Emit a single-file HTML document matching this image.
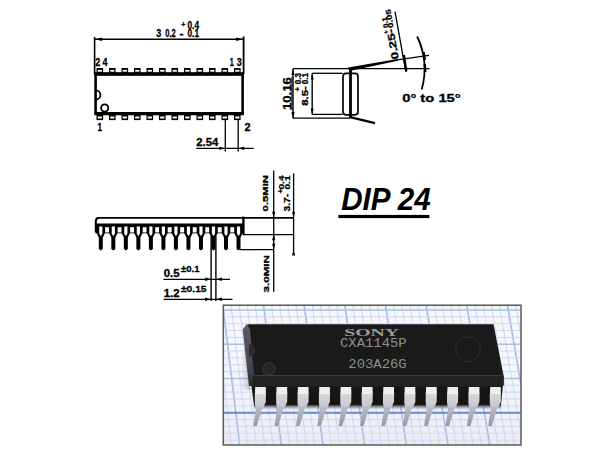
<!DOCTYPE html>
<html><head><meta charset="utf-8"><style>
html,body{margin:0;padding:0;background:#fff;width:600px;height:451px;overflow:hidden}
svg{position:absolute;left:0;top:0}
</style></head><body>
<svg width="600" height="451" viewBox="0 0 600 451">
<defs>
<clipPath id="pclip"><rect x="223.3" y="305.2" width="297.7" height="139.8"/></clipPath>
<linearGradient id="pt" x1="0" y1="0" x2="0" y2="1">
<stop offset="0" stop-color="#d6d6dc"/><stop offset="0.35" stop-color="#cbcbd3"/><stop offset="0.45" stop-color="#babac4"/><stop offset="1" stop-color="#9899a4"/>
</linearGradient>
<linearGradient id="fade" x1="0" y1="0" x2="0" y2="1">
<stop offset="0" stop-color="#3a3a40" stop-opacity="0.9"/><stop offset="1" stop-color="#80808a" stop-opacity="0"/>
</linearGradient>
<linearGradient id="shd" x1="0" y1="0" x2="1" y2="0">
<stop offset="0" stop-color="#70707a" stop-opacity="0"/><stop offset="1" stop-color="#50505a" stop-opacity="0.3"/>
</linearGradient>
<linearGradient id="sf" x1="0" y1="0" x2="0" y2="1">
<stop offset="0" stop-color="#5c5b64"/><stop offset="0.6" stop-color="#4a4a52"/><stop offset="1" stop-color="#2e2e34"/>
</linearGradient>
<linearGradient id="bgsh" x1="0" y1="0" x2="0" y2="1">
<stop offset="0" stop-color="#ffffff" stop-opacity="0"/><stop offset="1" stop-color="#e0e0e8" stop-opacity="0.5"/>
</linearGradient>
</defs>
<line x1="94.60" y1="37.00" x2="94.60" y2="74.00" stroke="#000" stroke-width="1.6"/>
<line x1="243.60" y1="36.50" x2="243.60" y2="74.00" stroke="#000" stroke-width="1.8"/>
<line x1="94.60" y1="39.30" x2="243.60" y2="39.30" stroke="#000" stroke-width="1.4"/>
<polygon points="95.10,39.30 102.10,37.50 102.10,41.10" fill="#000"/>
<polygon points="243.10,39.30 236.10,37.50 236.10,41.10" fill="#000"/>
<text x="156.20" y="37.30" font-family="Liberation Sans" font-size="11.2" font-weight="bold" fill="#000" text-anchor="start" textLength="5" lengthAdjust="spacingAndGlyphs"  stroke="#000" stroke-width="0.3">3</text>
<text x="165.20" y="37.30" font-family="Liberation Sans" font-size="11.2" font-weight="bold" fill="#000" text-anchor="start" textLength="10.5" lengthAdjust="spacingAndGlyphs"  stroke="#000" stroke-width="0.3">0.2</text>
<text x="179.50" y="37.30" font-family="Liberation Sans" font-size="11" font-weight="bold" fill="#000" text-anchor="start" textLength="4" lengthAdjust="spacingAndGlyphs"  stroke="#000" stroke-width="0.3">-</text>
<text x="181.30" y="27.20" font-family="Liberation Sans" font-size="8" font-weight="bold" fill="#000" text-anchor="start" textLength="4" lengthAdjust="spacingAndGlyphs"  stroke="#000" stroke-width="0.3">+</text>
<text x="187.50" y="29.00" font-family="Liberation Sans" font-size="10" font-weight="bold" fill="#000" text-anchor="start" textLength="11.5" lengthAdjust="spacingAndGlyphs"  stroke="#000" stroke-width="0.3">0.4</text>
<text x="187.50" y="37.30" font-family="Liberation Sans" font-size="10" font-weight="bold" fill="#000" text-anchor="start" textLength="11.5" lengthAdjust="spacingAndGlyphs"  stroke="#000" stroke-width="0.3">0.1</text>
<text x="95.20" y="66.00" font-family="Liberation Sans" font-size="10.5" font-weight="bold" fill="#000" text-anchor="start" textLength="5" lengthAdjust="spacingAndGlyphs"  stroke="#000" stroke-width="0.3">2</text>
<text x="102.40" y="66.00" font-family="Liberation Sans" font-size="10.5" font-weight="bold" fill="#000" text-anchor="start" textLength="5" lengthAdjust="spacingAndGlyphs"  stroke="#000" stroke-width="0.3">4</text>
<text x="229.80" y="66.20" font-family="Liberation Sans" font-size="10.5" font-weight="bold" fill="#000" text-anchor="start" textLength="4" lengthAdjust="spacingAndGlyphs"  stroke="#000" stroke-width="0.3">1</text>
<text x="236.80" y="66.20" font-family="Liberation Sans" font-size="10.5" font-weight="bold" fill="#000" text-anchor="start" textLength="5" lengthAdjust="spacingAndGlyphs"  stroke="#000" stroke-width="0.3">3</text>
<text x="97.60" y="130.80" font-family="Liberation Sans" font-size="10" font-weight="bold" fill="#000" text-anchor="start" textLength="4.5" lengthAdjust="spacingAndGlyphs"  stroke="#000" stroke-width="0.3">1</text>
<text x="244.60" y="130.60" font-family="Liberation Sans" font-size="10" font-weight="bold" fill="#000" text-anchor="start" textLength="6" lengthAdjust="spacingAndGlyphs"  stroke="#000" stroke-width="0.3">2</text>
<rect x="95.60" y="74" width="147.00" height="39.6" fill="none" stroke="#000" stroke-width="2.6"/>
<line x1="94.60" y1="74.00" x2="243.60" y2="74.00" stroke="#000" stroke-width="3.4"/>
<line x1="94.60" y1="113.70" x2="243.60" y2="113.70" stroke="#000" stroke-width="3.3"/>
<rect x="96.50" y="68.00" width="6.60" height="6.00" fill="#000" />
<rect x="97.70" y="69.90" width="4.20" height="1.80" fill="#fff" />
<rect x="96.50" y="113.50" width="6.60" height="6.60" fill="#000" />
<rect x="97.70" y="116.50" width="4.20" height="2.00" fill="#fff" />
<rect x="109.00" y="68.00" width="6.60" height="6.00" fill="#000" />
<rect x="110.20" y="69.90" width="4.20" height="1.80" fill="#fff" />
<rect x="109.00" y="113.50" width="6.60" height="6.60" fill="#000" />
<rect x="110.20" y="116.50" width="4.20" height="2.00" fill="#fff" />
<rect x="121.50" y="68.00" width="6.60" height="6.00" fill="#000" />
<rect x="122.70" y="69.90" width="4.20" height="1.80" fill="#fff" />
<rect x="121.50" y="113.50" width="6.60" height="6.60" fill="#000" />
<rect x="122.70" y="116.50" width="4.20" height="2.00" fill="#fff" />
<rect x="134.00" y="68.00" width="6.60" height="6.00" fill="#000" />
<rect x="135.20" y="69.90" width="4.20" height="1.80" fill="#fff" />
<rect x="134.00" y="113.50" width="6.60" height="6.60" fill="#000" />
<rect x="135.20" y="116.50" width="4.20" height="2.00" fill="#fff" />
<rect x="146.50" y="68.00" width="6.60" height="6.00" fill="#000" />
<rect x="147.70" y="69.90" width="4.20" height="1.80" fill="#fff" />
<rect x="146.50" y="113.50" width="6.60" height="6.60" fill="#000" />
<rect x="147.70" y="116.50" width="4.20" height="2.00" fill="#fff" />
<rect x="159.00" y="68.00" width="6.60" height="6.00" fill="#000" />
<rect x="160.20" y="69.90" width="4.20" height="1.80" fill="#fff" />
<rect x="159.00" y="113.50" width="6.60" height="6.60" fill="#000" />
<rect x="160.20" y="116.50" width="4.20" height="2.00" fill="#fff" />
<rect x="171.50" y="68.00" width="6.60" height="6.00" fill="#000" />
<rect x="172.70" y="69.90" width="4.20" height="1.80" fill="#fff" />
<rect x="171.50" y="113.50" width="6.60" height="6.60" fill="#000" />
<rect x="172.70" y="116.50" width="4.20" height="2.00" fill="#fff" />
<rect x="184.00" y="68.00" width="6.60" height="6.00" fill="#000" />
<rect x="185.20" y="69.90" width="4.20" height="1.80" fill="#fff" />
<rect x="184.00" y="113.50" width="6.60" height="6.60" fill="#000" />
<rect x="185.20" y="116.50" width="4.20" height="2.00" fill="#fff" />
<rect x="196.50" y="68.00" width="6.60" height="6.00" fill="#000" />
<rect x="197.70" y="69.90" width="4.20" height="1.80" fill="#fff" />
<rect x="196.50" y="113.50" width="6.60" height="6.60" fill="#000" />
<rect x="197.70" y="116.50" width="4.20" height="2.00" fill="#fff" />
<rect x="209.00" y="68.00" width="6.60" height="6.00" fill="#000" />
<rect x="210.20" y="69.90" width="4.20" height="1.80" fill="#fff" />
<rect x="209.00" y="113.50" width="6.60" height="6.60" fill="#000" />
<rect x="210.20" y="116.50" width="4.20" height="2.00" fill="#fff" />
<rect x="221.50" y="68.00" width="6.60" height="6.00" fill="#000" />
<rect x="222.70" y="69.90" width="4.20" height="1.80" fill="#fff" />
<rect x="221.50" y="113.50" width="6.60" height="6.60" fill="#000" />
<rect x="222.70" y="116.50" width="4.20" height="2.00" fill="#fff" />
<rect x="234.00" y="68.00" width="6.60" height="6.00" fill="#000" />
<rect x="235.20" y="69.90" width="4.20" height="1.80" fill="#fff" />
<rect x="234.00" y="113.50" width="6.60" height="6.60" fill="#000" />
<rect x="235.20" y="116.50" width="4.20" height="2.00" fill="#fff" />
<path d="M 95.80 90.3 A 4.6 4.6 0 0 1 95.80 99.5" fill="none" stroke="#000" stroke-width="1.8"/>
<circle cx="104.7" cy="108" r="3.6" fill="none" stroke="#000" stroke-width="1.8"/>
<line x1="225.30" y1="119.00" x2="225.30" y2="151.50" stroke="#000" stroke-width="1.3"/>
<line x1="238.20" y1="119.00" x2="238.20" y2="151.50" stroke="#000" stroke-width="1.3"/>
<line x1="196.30" y1="148.30" x2="253.70" y2="148.30" stroke="#000" stroke-width="1.2"/>
<polygon points="225.30,148.30 219.30,146.70 219.30,149.90" fill="#000"/>
<polygon points="238.20,148.30 244.20,146.70 244.20,149.90" fill="#000"/>
<text x="196.30" y="145.70" font-family="Liberation Sans" font-size="10.5" font-weight="bold" fill="#000" text-anchor="start" textLength="22" lengthAdjust="spacingAndGlyphs"  stroke="#000" stroke-width="0.3">2.54</text>
<line x1="293.00" y1="68.70" x2="429.50" y2="68.70" stroke="#000" stroke-width="1.3"/>
<line x1="293.00" y1="68.70" x2="293.00" y2="118.30" stroke="#000" stroke-width="1.4"/>
<line x1="293.00" y1="118.10" x2="350.00" y2="118.10" stroke="#000" stroke-width="1.4"/>
<polygon points="293.00,69.00 291.40,75.00 294.60,75.00" fill="#000"/>
<polygon points="293.00,118.00 291.40,112.00 294.60,112.00" fill="#000"/>
<line x1="312.20" y1="73.30" x2="312.20" y2="114.60" stroke="#000" stroke-width="1.4"/>
<polygon points="312.20,73.50 310.70,79.50 313.70,79.50" fill="#000"/>
<polygon points="312.20,114.40 310.70,108.40 313.70,108.40" fill="#000"/>
<line x1="312.20" y1="73.30" x2="342.50" y2="73.30" stroke="#000" stroke-width="1.3"/>
<line x1="312.20" y1="114.40" x2="342.50" y2="114.40" stroke="#000" stroke-width="1.3"/>
<rect x="343" y="73.4" width="15" height="41.4" rx="3" fill="none" stroke="#000" stroke-width="1.7"/>
<line x1="350.50" y1="68.50" x2="350.50" y2="118.00" stroke="#000" stroke-width="2.8"/>
<line x1="350.00" y1="117.20" x2="375.00" y2="123.20" stroke="#000" stroke-width="2.4"/>
<polygon points="348.00,67.60 349.30,70.90 398.00,60.80 397.50,58.90" fill="#000"/>
<line x1="397.00" y1="59.80" x2="429.00" y2="55.30" stroke="#000" stroke-width="1.3"/>
<path d="M 417.15 36.50 A 75.5 75.5 0 0 1 421.65 89.56" fill="none" stroke="#000" stroke-width="1.8"/>
<line x1="395.00" y1="11.70" x2="405.80" y2="71.60" stroke="#000" stroke-width="1.3"/>
<line x1="403.90" y1="55.00" x2="406.30" y2="71.50" stroke="#000" stroke-width="2.3"/>
<line x1="423.50" y1="52.00" x2="424.80" y2="60.00" stroke="#000" stroke-width="2.4"/>
<line x1="424.80" y1="64.00" x2="425.20" y2="72.00" stroke="#000" stroke-width="2.4"/>
<text transform="translate(398.80,58.80) rotate(-100)" font-family="Liberation Sans" font-size="10" font-weight="bold" fill="#000" text-anchor="start" textLength="31" lengthAdjust="spacingAndGlyphs"  stroke="#000" stroke-width="0.3">0.25-</text>
<text transform="translate(388.50,33.50) rotate(-100)" font-family="Liberation Sans" font-size="6.5" font-weight="bold" fill="#000" text-anchor="start" textLength="3.5" lengthAdjust="spacingAndGlyphs"  stroke="#000" stroke-width="0.3">+</text>
<text transform="translate(388.60,27.50) rotate(-100)" font-family="Liberation Sans" font-size="7" font-weight="bold" fill="#000" text-anchor="start" textLength="11" lengthAdjust="spacingAndGlyphs"  stroke="#000" stroke-width="0.3">0.1</text>
<text transform="translate(393.60,27.50) rotate(-100)" font-family="Liberation Sans" font-size="7" font-weight="bold" fill="#000" text-anchor="start" textLength="19" lengthAdjust="spacingAndGlyphs"  stroke="#000" stroke-width="0.3">0.05</text>
<text x="402.20" y="102.40" font-family="Liberation Sans" font-size="11.5" font-weight="bold" fill="#000" text-anchor="start" textLength="58.5" lengthAdjust="spacingAndGlyphs"  stroke="#000" stroke-width="0.3">0° to 15°</text>
<text transform="translate(290.60,110.10) rotate(-90)" font-family="Liberation Sans" font-size="11" font-weight="bold" fill="#000" text-anchor="start" textLength="33" lengthAdjust="spacingAndGlyphs"  stroke="#000" stroke-width="0.3">10.16</text>
<line x1="291.80" y1="77.00" x2="291.80" y2="110.00" stroke="#000" stroke-width="1.0"/>
<text transform="translate(308.20,105.80) rotate(-90)" font-family="Liberation Sans" font-size="8.8" font-weight="bold" fill="#000" text-anchor="start" textLength="19.5" lengthAdjust="spacingAndGlyphs"  stroke="#000" stroke-width="0.3">8.5-</text>
<text transform="translate(300.00,91.50) rotate(-90)" font-family="Liberation Sans" font-size="8" font-weight="bold" fill="#000" text-anchor="start" textLength="4.5" lengthAdjust="spacingAndGlyphs"  stroke="#000" stroke-width="0.3">+</text>
<text transform="translate(300.60,84.20) rotate(-90)" font-family="Liberation Sans" font-size="8.5" font-weight="bold" fill="#000" text-anchor="start" textLength="11.2" lengthAdjust="spacingAndGlyphs"  stroke="#000" stroke-width="0.3">0.3</text>
<text transform="translate(308.20,84.20) rotate(-90)" font-family="Liberation Sans" font-size="8.5" font-weight="bold" fill="#000" text-anchor="start" textLength="11.2" lengthAdjust="spacingAndGlyphs"  stroke="#000" stroke-width="0.3">0.1</text>
<line x1="97.00" y1="217.90" x2="293.50" y2="217.90" stroke="#000" stroke-width="1.7"/>
<path d="M 95.8 232 L 95.8 221.2 Q 95.8 217.9 99 217.9" fill="none" stroke="#000" stroke-width="2"/>
<line x1="243.40" y1="216.60" x2="243.40" y2="234.50" stroke="#000" stroke-width="2.4"/>
<line x1="95.00" y1="224.50" x2="243.00" y2="224.50" stroke="#000" stroke-width="2.0"/>
<line x1="243.00" y1="234.60" x2="294.00" y2="234.60" stroke="#000" stroke-width="1.3"/>
<line x1="240.00" y1="249.60" x2="274.00" y2="249.60" stroke="#000" stroke-width="1.3"/>
<line x1="273.70" y1="170.60" x2="273.70" y2="291.70" stroke="#000" stroke-width="1.3"/>
<line x1="293.60" y1="173.30" x2="293.60" y2="251.70" stroke="#000" stroke-width="1.3"/>
<polygon points="273.70,217.80 272.10,211.80 275.30,211.80" fill="#000"/>
<polygon points="273.70,234.30 272.10,240.30 275.30,240.30" fill="#000"/>
<polygon points="273.70,249.80 272.10,243.80 275.30,243.80" fill="#000"/>
<polygon points="293.60,217.80 292.00,211.80 295.20,211.80" fill="#000"/>
<polygon points="293.60,249.60 292.00,255.60 295.20,255.60" fill="#000"/>
<rect x="95.30" y="224.50" width="148.00" height="8.80" fill="#000" />
<polygon points="96.10,232.00 105.50,232.00 102.80,237.50 102.80,249.00 100.80,250.40 98.80,249.00 98.80,237.50" fill="#000"/>
<polygon points="99.20,226.60 102.40,226.60 102.40,233.50 100.80,236.20 99.20,233.50" fill="#fff"/>
<rect x="105.10" y="227.20" width="3.90" height="5.30" fill="#fff" />
<polygon points="108.62,232.00 118.02,232.00 115.32,237.50 115.32,249.00 113.32,250.40 111.32,249.00 111.32,237.50" fill="#000"/>
<polygon points="111.72,226.60 114.92,226.60 114.92,233.50 113.32,236.20 111.72,233.50" fill="#fff"/>
<rect x="117.62" y="227.20" width="3.90" height="5.30" fill="#fff" />
<polygon points="121.14,232.00 130.54,232.00 127.84,237.50 127.84,249.00 125.84,250.40 123.84,249.00 123.84,237.50" fill="#000"/>
<polygon points="124.24,226.60 127.44,226.60 127.44,233.50 125.84,236.20 124.24,233.50" fill="#fff"/>
<rect x="130.14" y="227.20" width="3.90" height="5.30" fill="#fff" />
<polygon points="133.66,232.00 143.06,232.00 140.36,237.50 140.36,249.00 138.36,250.40 136.36,249.00 136.36,237.50" fill="#000"/>
<polygon points="136.76,226.60 139.96,226.60 139.96,233.50 138.36,236.20 136.76,233.50" fill="#fff"/>
<rect x="142.66" y="227.20" width="3.90" height="5.30" fill="#fff" />
<polygon points="146.18,232.00 155.58,232.00 152.88,237.50 152.88,249.00 150.88,250.40 148.88,249.00 148.88,237.50" fill="#000"/>
<polygon points="149.28,226.60 152.48,226.60 152.48,233.50 150.88,236.20 149.28,233.50" fill="#fff"/>
<rect x="155.18" y="227.20" width="3.90" height="5.30" fill="#fff" />
<polygon points="158.70,232.00 168.10,232.00 165.40,237.50 165.40,249.00 163.40,250.40 161.40,249.00 161.40,237.50" fill="#000"/>
<polygon points="161.80,226.60 165.00,226.60 165.00,233.50 163.40,236.20 161.80,233.50" fill="#fff"/>
<rect x="167.70" y="227.20" width="3.90" height="5.30" fill="#fff" />
<polygon points="171.22,232.00 180.62,232.00 177.92,237.50 177.92,249.00 175.92,250.40 173.92,249.00 173.92,237.50" fill="#000"/>
<polygon points="174.32,226.60 177.52,226.60 177.52,233.50 175.92,236.20 174.32,233.50" fill="#fff"/>
<rect x="180.22" y="227.20" width="3.90" height="5.30" fill="#fff" />
<polygon points="183.74,232.00 193.14,232.00 190.44,237.50 190.44,249.00 188.44,250.40 186.44,249.00 186.44,237.50" fill="#000"/>
<polygon points="186.84,226.60 190.04,226.60 190.04,233.50 188.44,236.20 186.84,233.50" fill="#fff"/>
<rect x="192.74" y="227.20" width="3.90" height="5.30" fill="#fff" />
<polygon points="196.26,232.00 205.66,232.00 202.96,237.50 202.96,249.00 200.96,250.40 198.96,249.00 198.96,237.50" fill="#000"/>
<polygon points="199.36,226.60 202.56,226.60 202.56,233.50 200.96,236.20 199.36,233.50" fill="#fff"/>
<rect x="205.26" y="227.20" width="3.90" height="5.30" fill="#fff" />
<polygon points="208.78,232.00 218.18,232.00 215.48,237.50 215.48,249.00 213.48,250.40 211.48,249.00 211.48,237.50" fill="#000"/>
<polygon points="211.88,226.60 215.08,226.60 215.08,233.50 213.48,236.20 211.88,233.50" fill="#fff"/>
<rect x="217.78" y="227.20" width="3.90" height="5.30" fill="#fff" />
<polygon points="221.30,232.00 230.70,232.00 228.00,237.50 228.00,249.00 226.00,250.40 224.00,249.00 224.00,237.50" fill="#000"/>
<polygon points="224.40,226.60 227.60,226.60 227.60,233.50 226.00,236.20 224.40,233.50" fill="#fff"/>
<rect x="230.30" y="227.20" width="3.90" height="5.30" fill="#fff" />
<polygon points="233.82,232.00 243.22,232.00 240.52,237.50 240.52,249.00 238.52,250.40 236.52,249.00 236.52,237.50" fill="#000"/>
<polygon points="236.92,226.60 240.12,226.60 240.12,233.50 238.52,236.20 236.92,233.50" fill="#fff"/>
<line x1="211.10" y1="236.00" x2="211.10" y2="301.00" stroke="#000" stroke-width="1.4"/>
<line x1="215.90" y1="236.00" x2="215.90" y2="301.00" stroke="#000" stroke-width="1.4"/>
<line x1="163.50" y1="279.30" x2="230.00" y2="279.30" stroke="#000" stroke-width="1.3"/>
<polygon points="211.10,279.30 205.10,277.60 205.10,281.00" fill="#000"/>
<polygon points="215.90,279.30 221.90,277.60 221.90,281.00" fill="#000"/>
<line x1="163.50" y1="299.30" x2="232.50" y2="299.30" stroke="#000" stroke-width="1.3"/>
<polygon points="211.10,299.30 205.10,297.60 205.10,301.00" fill="#000"/>
<polygon points="215.90,299.30 221.90,297.60 221.90,301.00" fill="#000"/>
<text x="163.70" y="277.30" font-family="Liberation Sans" font-size="10" font-weight="bold" fill="#000" text-anchor="start" textLength="15.8" lengthAdjust="spacingAndGlyphs"  stroke="#000" stroke-width="0.3">0.5</text>
<text x="181.00" y="272.20" font-family="Liberation Sans" font-size="9.8" font-weight="bold" fill="#000" text-anchor="start" textLength="18.5" lengthAdjust="spacingAndGlyphs"  stroke="#000" stroke-width="0.3">±0.1</text>
<text x="163.70" y="297.30" font-family="Liberation Sans" font-size="10" font-weight="bold" fill="#000" text-anchor="start" textLength="15.8" lengthAdjust="spacingAndGlyphs"  stroke="#000" stroke-width="0.3">1.2</text>
<text x="181.00" y="292.00" font-family="Liberation Sans" font-size="9.8" font-weight="bold" fill="#000" text-anchor="start" textLength="25.5" lengthAdjust="spacingAndGlyphs"  stroke="#000" stroke-width="0.3">±0.15</text>
<text transform="translate(268.00,211.40) rotate(-90)" font-family="Liberation Sans" font-size="8" font-weight="bold" fill="#000" text-anchor="start" textLength="36.4" lengthAdjust="spacingAndGlyphs"  stroke="#000" stroke-width="0.3">0.5MIN</text>
<text transform="translate(289.80,211.40) rotate(-90)" font-family="Liberation Sans" font-size="8.5" font-weight="bold" fill="#000" text-anchor="start" textLength="17.5" lengthAdjust="spacingAndGlyphs"  stroke="#000" stroke-width="0.3">3.7-</text>
<text transform="translate(283.00,193.50) rotate(-90)" font-family="Liberation Sans" font-size="7.5" font-weight="bold" fill="#000" text-anchor="start" textLength="4.5" lengthAdjust="spacingAndGlyphs"  stroke="#000" stroke-width="0.3">+</text>
<text transform="translate(283.50,189.50) rotate(-90)" font-family="Liberation Sans" font-size="8" font-weight="bold" fill="#000" text-anchor="start" textLength="14" lengthAdjust="spacingAndGlyphs"  stroke="#000" stroke-width="0.3">0.4</text>
<text transform="translate(289.90,189.50) rotate(-90)" font-family="Liberation Sans" font-size="8" font-weight="bold" fill="#000" text-anchor="start" textLength="14" lengthAdjust="spacingAndGlyphs"  stroke="#000" stroke-width="0.3">0.1</text>
<text transform="translate(269.40,292.50) rotate(-90)" font-family="Liberation Sans" font-size="8" font-weight="bold" fill="#000" text-anchor="start" textLength="37.5" lengthAdjust="spacingAndGlyphs"  stroke="#000" stroke-width="0.3">3.0MIN</text>
<text x="341.20" y="209.60" font-family="Liberation Sans" font-size="31.5" font-weight="bold" fill="#000" text-anchor="start" textLength="89.5" lengthAdjust="spacingAndGlyphs" font-style="italic">DIP 24</text>
<rect x="338.40" y="214.90" width="91.00" height="3.20" fill="#000" />
<g clip-path="url(#pclip)">
<rect x="223.30" y="305.20" width="297.70" height="139.80" fill="#f6f7fb" />
<rect x="223.3" y="305.2" width="297.7" height="139.8" fill="url(#bgsh)"/>
<line x1="141.58" y1="305.20" x2="156.30" y2="445.00" stroke="#a3bbe6" stroke-width="1.6"/>
<line x1="149.71" y1="305.20" x2="164.64" y2="445.00" stroke="#cad8f1" stroke-width="1.0"/>
<line x1="157.84" y1="305.20" x2="172.97" y2="445.00" stroke="#cad8f1" stroke-width="1.0"/>
<line x1="165.97" y1="305.20" x2="181.31" y2="445.00" stroke="#cad8f1" stroke-width="1.0"/>
<line x1="174.10" y1="305.20" x2="189.64" y2="445.00" stroke="#cad8f1" stroke-width="1.0"/>
<line x1="182.23" y1="305.20" x2="197.98" y2="445.00" stroke="#a3bbe6" stroke-width="1.6"/>
<line x1="190.36" y1="305.20" x2="206.31" y2="445.00" stroke="#cad8f1" stroke-width="1.0"/>
<line x1="198.49" y1="305.20" x2="214.65" y2="445.00" stroke="#cad8f1" stroke-width="1.0"/>
<line x1="206.62" y1="305.20" x2="222.98" y2="445.00" stroke="#cad8f1" stroke-width="1.0"/>
<line x1="214.75" y1="305.20" x2="231.32" y2="445.00" stroke="#cad8f1" stroke-width="1.0"/>
<line x1="222.88" y1="305.20" x2="239.65" y2="445.00" stroke="#a3bbe6" stroke-width="1.6"/>
<line x1="231.01" y1="305.20" x2="247.99" y2="445.00" stroke="#cad8f1" stroke-width="1.0"/>
<line x1="239.14" y1="305.20" x2="256.32" y2="445.00" stroke="#cad8f1" stroke-width="1.0"/>
<line x1="247.27" y1="305.20" x2="264.66" y2="445.00" stroke="#cad8f1" stroke-width="1.0"/>
<line x1="255.40" y1="305.20" x2="272.99" y2="445.00" stroke="#cad8f1" stroke-width="1.0"/>
<line x1="263.53" y1="305.20" x2="281.33" y2="445.00" stroke="#a3bbe6" stroke-width="1.6"/>
<line x1="271.66" y1="305.20" x2="289.66" y2="445.00" stroke="#cad8f1" stroke-width="1.0"/>
<line x1="279.79" y1="305.20" x2="298.00" y2="445.00" stroke="#cad8f1" stroke-width="1.0"/>
<line x1="287.92" y1="305.20" x2="306.33" y2="445.00" stroke="#cad8f1" stroke-width="1.0"/>
<line x1="296.05" y1="305.20" x2="314.67" y2="445.00" stroke="#cad8f1" stroke-width="1.0"/>
<line x1="304.18" y1="305.20" x2="323.00" y2="445.00" stroke="#a3bbe6" stroke-width="1.6"/>
<line x1="312.31" y1="305.20" x2="331.34" y2="445.00" stroke="#cad8f1" stroke-width="1.0"/>
<line x1="320.44" y1="305.20" x2="339.67" y2="445.00" stroke="#cad8f1" stroke-width="1.0"/>
<line x1="328.57" y1="305.20" x2="348.01" y2="445.00" stroke="#cad8f1" stroke-width="1.0"/>
<line x1="336.70" y1="305.20" x2="356.34" y2="445.00" stroke="#cad8f1" stroke-width="1.0"/>
<line x1="344.83" y1="305.20" x2="364.68" y2="445.00" stroke="#a3bbe6" stroke-width="1.6"/>
<line x1="352.96" y1="305.20" x2="373.01" y2="445.00" stroke="#cad8f1" stroke-width="1.0"/>
<line x1="361.09" y1="305.20" x2="381.35" y2="445.00" stroke="#cad8f1" stroke-width="1.0"/>
<line x1="369.23" y1="305.20" x2="389.68" y2="445.00" stroke="#cad8f1" stroke-width="1.0"/>
<line x1="377.36" y1="305.20" x2="398.02" y2="445.00" stroke="#cad8f1" stroke-width="1.0"/>
<line x1="385.49" y1="305.20" x2="406.35" y2="445.00" stroke="#a3bbe6" stroke-width="1.6"/>
<line x1="393.62" y1="305.20" x2="414.69" y2="445.00" stroke="#cad8f1" stroke-width="1.0"/>
<line x1="401.75" y1="305.20" x2="423.02" y2="445.00" stroke="#cad8f1" stroke-width="1.0"/>
<line x1="409.88" y1="305.20" x2="431.35" y2="445.00" stroke="#cad8f1" stroke-width="1.0"/>
<line x1="418.01" y1="305.20" x2="439.69" y2="445.00" stroke="#cad8f1" stroke-width="1.0"/>
<line x1="426.14" y1="305.20" x2="448.02" y2="445.00" stroke="#a3bbe6" stroke-width="1.6"/>
<line x1="434.27" y1="305.20" x2="456.36" y2="445.00" stroke="#cad8f1" stroke-width="1.0"/>
<line x1="442.40" y1="305.20" x2="464.69" y2="445.00" stroke="#cad8f1" stroke-width="1.0"/>
<line x1="450.53" y1="305.20" x2="473.03" y2="445.00" stroke="#cad8f1" stroke-width="1.0"/>
<line x1="458.66" y1="305.20" x2="481.36" y2="445.00" stroke="#cad8f1" stroke-width="1.0"/>
<line x1="466.79" y1="305.20" x2="489.70" y2="445.00" stroke="#a3bbe6" stroke-width="1.6"/>
<line x1="474.92" y1="305.20" x2="498.03" y2="445.00" stroke="#cad8f1" stroke-width="1.0"/>
<line x1="483.05" y1="305.20" x2="506.37" y2="445.00" stroke="#cad8f1" stroke-width="1.0"/>
<line x1="491.18" y1="305.20" x2="514.70" y2="445.00" stroke="#cad8f1" stroke-width="1.0"/>
<line x1="499.31" y1="305.20" x2="523.04" y2="445.00" stroke="#cad8f1" stroke-width="1.0"/>
<line x1="507.44" y1="305.20" x2="531.37" y2="445.00" stroke="#a3bbe6" stroke-width="1.6"/>
<line x1="515.57" y1="305.20" x2="539.71" y2="445.00" stroke="#cad8f1" stroke-width="1.0"/>
<line x1="523.70" y1="305.20" x2="548.04" y2="445.00" stroke="#cad8f1" stroke-width="1.0"/>
<line x1="531.83" y1="305.20" x2="556.38" y2="445.00" stroke="#cad8f1" stroke-width="1.0"/>
<line x1="539.96" y1="305.20" x2="564.71" y2="445.00" stroke="#cad8f1" stroke-width="1.0"/>
<line x1="223.30" y1="296.25" x2="521.00" y2="296.25" stroke="#cdd9f1" stroke-width="1.0"/>
<line x1="223.30" y1="303.10" x2="521.00" y2="303.10" stroke="#cdd9f1" stroke-width="1.0"/>
<line x1="223.30" y1="309.95" x2="521.00" y2="309.95" stroke="#abc1e8" stroke-width="1.5"/>
<line x1="223.30" y1="316.80" x2="521.00" y2="316.80" stroke="#cdd9f1" stroke-width="1.0"/>
<line x1="223.30" y1="323.65" x2="521.00" y2="323.65" stroke="#cdd9f1" stroke-width="1.0"/>
<line x1="223.30" y1="330.50" x2="521.00" y2="330.50" stroke="#cdd9f1" stroke-width="1.0"/>
<line x1="223.30" y1="337.35" x2="521.00" y2="337.35" stroke="#cdd9f1" stroke-width="1.0"/>
<line x1="223.30" y1="344.20" x2="521.00" y2="344.20" stroke="#abc1e8" stroke-width="1.5"/>
<line x1="223.30" y1="351.05" x2="521.00" y2="351.05" stroke="#cdd9f1" stroke-width="1.0"/>
<line x1="223.30" y1="357.90" x2="521.00" y2="357.90" stroke="#cdd9f1" stroke-width="1.0"/>
<line x1="223.30" y1="364.75" x2="521.00" y2="364.75" stroke="#cdd9f1" stroke-width="1.0"/>
<line x1="223.30" y1="371.60" x2="521.00" y2="371.60" stroke="#cdd9f1" stroke-width="1.0"/>
<line x1="223.30" y1="378.45" x2="521.00" y2="378.45" stroke="#abc1e8" stroke-width="1.5"/>
<line x1="223.30" y1="385.30" x2="521.00" y2="385.30" stroke="#cdd9f1" stroke-width="1.0"/>
<line x1="223.30" y1="392.15" x2="521.00" y2="392.15" stroke="#cdd9f1" stroke-width="1.0"/>
<line x1="223.30" y1="399.00" x2="521.00" y2="399.00" stroke="#cdd9f1" stroke-width="1.0"/>
<line x1="223.30" y1="405.85" x2="521.00" y2="405.85" stroke="#cdd9f1" stroke-width="1.0"/>
<line x1="223.30" y1="412.70" x2="521.00" y2="412.70" stroke="#abc1e8" stroke-width="1.5"/>
<line x1="223.30" y1="419.55" x2="521.00" y2="419.55" stroke="#cdd9f1" stroke-width="1.0"/>
<line x1="223.30" y1="426.40" x2="521.00" y2="426.40" stroke="#cdd9f1" stroke-width="1.0"/>
<line x1="223.30" y1="433.25" x2="521.00" y2="433.25" stroke="#cdd9f1" stroke-width="1.0"/>
<line x1="223.30" y1="440.10" x2="521.00" y2="440.10" stroke="#cdd9f1" stroke-width="1.0"/>
<line x1="223.30" y1="446.95" x2="521.00" y2="446.95" stroke="#abc1e8" stroke-width="1.5"/>
<line x1="223.30" y1="453.80" x2="521.00" y2="453.80" stroke="#cdd9f1" stroke-width="1.0"/>
<line x1="223.30" y1="412.70" x2="521.00" y2="412.70" stroke="#6a8cd0" stroke-width="2.0"/>
<polygon points="240,362 245.5,345 250.5,390 241,390" fill="url(#shd)"/>
<polygon points="250.00,376.00 503.80,376.00 501.00,405.50 254.00,405.50" fill="#161616"/>
<rect x="254" y="405.3" width="247" height="4.5" fill="url(#fade)"/>
<polygon points="242.70,329.50 246.50,324.20 252.00,326.00 254.00,376.00 252.00,386.00 249.00,386.00" fill="url(#sf)"/>
<polygon points="247.50,324.20 493.50,324.20 503.50,375.50 253.80,375.50 250.20,330.00" fill="#1a1a1b"/>
<polygon points="252.50,375.20 503.60,375.20 503.90,385.00 502.70,386.50 252.50,386.50" fill="#232324"/>
<line x1="253.00" y1="375.50" x2="503.50" y2="375.50" stroke="#3a3a3c" stroke-width="0.8"/>
<path d="M 249 344 A 6.5 6.5 0 0 1 249 357 Z" fill="#2d2b30"/>
<circle cx="269" cy="368.7" r="6.2" fill="#262628" stroke="#3c3c40" stroke-width="0.9"/>
<circle cx="468" cy="349.3" r="12.4" fill="#1a1a1b" stroke="#2e2e30" stroke-width="1"/>
<text x="371.70" y="335.80" font-family="Liberation Serif" font-size="9.8" font-weight="bold" fill="#9c9c9c" text-anchor="middle" textLength="55" lengthAdjust="spacingAndGlyphs" >SONY</text>
<text x="340.00" y="346.70" font-family="Liberation Mono" font-size="12.5" font-weight="normal" fill="#8e8e8e" text-anchor="start" textLength="66.7" lengthAdjust="spacingAndGlyphs" >CXA1145P</text>
<text x="348.30" y="368.30" font-family="Liberation Mono" font-size="13.2" font-weight="normal" fill="#8e8e8e" text-anchor="start" textLength="58.4" lengthAdjust="spacingAndGlyphs" >203A26G</text>
<polygon points="254.80,393.50 266.00,393.50 265.80,402.00 263.80,406.50 262.00,409.00 256.80,426.00 253.20,426.00 255.80,409.00 254.80,403.00" fill="url(#pt)"/>
<polygon points="255.20,387.00 265.80,387.00 265.90,394.00 255.00,394.00" fill="#efefed"/>
<polygon points="276.16,393.50 287.36,393.50 287.16,402.00 285.16,406.50 283.36,409.00 278.16,426.00 274.56,426.00 277.16,409.00 276.16,403.00" fill="url(#pt)"/>
<polygon points="276.56,387.00 287.16,387.00 287.26,394.00 276.36,394.00" fill="#efefed"/>
<polygon points="297.52,393.50 308.72,393.50 308.52,402.00 306.52,406.50 304.72,409.00 299.52,426.00 295.92,426.00 298.52,409.00 297.52,403.00" fill="url(#pt)"/>
<polygon points="297.92,387.00 308.52,387.00 308.62,394.00 297.72,394.00" fill="#efefed"/>
<polygon points="318.88,393.50 330.08,393.50 329.88,402.00 327.88,406.50 326.08,409.00 320.88,426.00 317.28,426.00 319.88,409.00 318.88,403.00" fill="url(#pt)"/>
<polygon points="319.28,387.00 329.88,387.00 329.98,394.00 319.08,394.00" fill="#efefed"/>
<polygon points="340.24,393.50 351.44,393.50 351.24,402.00 349.24,406.50 347.44,409.00 342.24,426.00 338.64,426.00 341.24,409.00 340.24,403.00" fill="url(#pt)"/>
<polygon points="340.64,387.00 351.24,387.00 351.34,394.00 340.44,394.00" fill="#efefed"/>
<polygon points="361.60,393.50 372.80,393.50 372.60,402.00 370.60,406.50 368.80,409.00 363.60,426.00 360.00,426.00 362.60,409.00 361.60,403.00" fill="url(#pt)"/>
<polygon points="362.00,387.00 372.60,387.00 372.70,394.00 361.80,394.00" fill="#efefed"/>
<polygon points="382.96,393.50 394.16,393.50 393.96,402.00 391.96,406.50 390.16,409.00 384.96,426.00 381.36,426.00 383.96,409.00 382.96,403.00" fill="url(#pt)"/>
<polygon points="383.36,387.00 393.96,387.00 394.06,394.00 383.16,394.00" fill="#efefed"/>
<polygon points="404.32,393.50 415.52,393.50 415.32,402.00 413.32,406.50 411.52,409.00 406.32,426.00 402.72,426.00 405.32,409.00 404.32,403.00" fill="url(#pt)"/>
<polygon points="404.72,387.00 415.32,387.00 415.42,394.00 404.52,394.00" fill="#efefed"/>
<polygon points="425.68,393.50 436.88,393.50 436.68,402.00 434.68,406.50 432.88,409.00 427.68,426.00 424.08,426.00 426.68,409.00 425.68,403.00" fill="url(#pt)"/>
<polygon points="426.08,387.00 436.68,387.00 436.78,394.00 425.88,394.00" fill="#efefed"/>
<polygon points="447.04,393.50 458.24,393.50 458.04,402.00 456.04,406.50 454.24,409.00 449.04,426.00 445.44,426.00 448.04,409.00 447.04,403.00" fill="url(#pt)"/>
<polygon points="447.44,387.00 458.04,387.00 458.14,394.00 447.24,394.00" fill="#efefed"/>
<polygon points="468.40,393.50 479.60,393.50 479.40,402.00 477.40,406.50 475.60,409.00 470.40,426.00 466.80,426.00 469.40,409.00 468.40,403.00" fill="url(#pt)"/>
<polygon points="468.80,387.00 479.40,387.00 479.50,394.00 468.60,394.00" fill="#efefed"/>
<polygon points="489.76,393.50 500.96,393.50 500.76,402.00 498.76,406.50 496.96,409.00 491.76,426.00 488.16,426.00 490.76,409.00 489.76,403.00" fill="url(#pt)"/>
<polygon points="490.16,387.00 500.76,387.00 500.86,394.00 489.96,394.00" fill="#efefed"/>
</g>
<rect x="223.30" y="305.20" width="297.70" height="139.80" fill="none" stroke="#5a5a5a" stroke-width="1.5"/>
</svg>
</body></html>
